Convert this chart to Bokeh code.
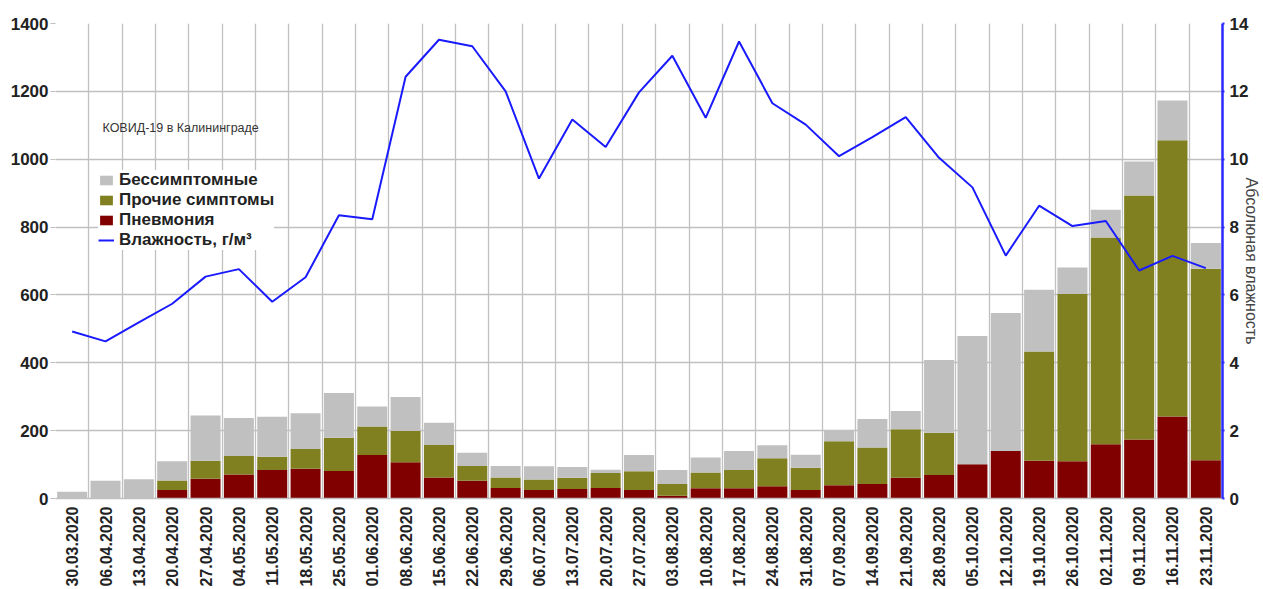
import math
from bokeh.plotting import figure
from bokeh.models import (FactorRange, Range1d, LinearAxis, Legend, LegendItem,
                          Label, Grid, FixedTicker, ColumnDataSource, SingleIntervalTicker)
from bokeh.embed import file_html
from bokeh.resources import INLINE

dates = ["30.03.2020", "06.04.2020", "13.04.2020", "20.04.2020", "27.04.2020",
         "04.05.2020", "11.05.2020", "18.05.2020", "25.05.2020", "01.06.2020",
         "08.06.2020", "15.06.2020", "22.06.2020", "29.06.2020", "06.07.2020",
         "13.07.2020", "20.07.2020", "27.07.2020", "03.08.2020", "10.08.2020",
         "17.08.2020", "24.08.2020", "31.08.2020", "07.09.2020", "14.09.2020",
         "21.09.2020", "28.09.2020", "05.10.2020", "12.10.2020", "19.10.2020",
         "26.10.2020", "02.11.2020", "09.11.2020", "16.11.2020", "23.11.2020"]

pneumonia = [0, 0, 0, 25, 58, 71, 84, 88, 81, 128, 107, 62, 52, 31, 25, 28, 31, 25,
             8, 30, 30, 36, 25, 39, 43, 61, 69, 101, 140, 111, 110, 160, 174, 242, 113]
other_symptoms = [0, 0, 0, 28, 53, 54, 39, 58, 98, 84, 92, 96, 44, 31, 31, 33, 44, 55,
                  35, 47, 54, 83, 66, 130, 107, 143, 125, 0, 0, 322, 493, 609, 719, 814, 564]
asymptomatic = [20, 52, 57, 57, 134, 112, 118, 105, 132, 59, 100, 65, 39, 34, 39, 32, 10,
                48, 41, 44, 56, 38, 38, 33, 84, 54, 214, 378, 407, 182, 78, 82, 100, 117, 76]
humidity = [4.92, 4.63, 5.19, 5.74, 6.54, 6.76, 5.80, 6.52, 8.35, 8.23, 12.43, 13.52,
            13.33, 12.0, 9.43, 11.17, 10.36, 11.97, 13.05, 11.22, 13.47, 11.65, 11.02,
            10.09, 10.65, 11.24, 10.04, 9.17, 7.16, 8.63, 8.03, 8.18, 6.72, 7.15, 6.79]

colors = ["#800000", "#808020", "#c0c0c0"]

FONT = "Liberation Sans"
GRID = "#c0c0c0"

src = ColumnDataSource(dict(date=dates, p=pneumonia, o=other_symptoms, a=asymptomatic, h=humidity))

p = figure(x_range=FactorRange(*dates), y_range=Range1d(0, 1400),
           width=1263, height=589,
           output_backend="svg", toolbar_location=None,
           min_border_top=23, min_border_left=55, min_border_right=0, min_border_bottom=90)
p.outline_line_color = None
p.background_fill_color = "white"
p.border_fill_color = "white"

p.extra_y_ranges = {"hum": Range1d(0, 14)}

renderers = p.vbar_stack(["p", "o", "a"], x="date", width=0.9, source=src,
                         color=colors, line_color=None)
line = p.line(x="date", y="h", source=src, y_range_name="hum",
              line_color="#1a1aff", line_width=2)

# grids
p.xgrid.visible = False
p.add_layout(Grid(dimension=0, ticker=FixedTicker(ticks=list(range(len(dates) + 1))),
                  grid_line_color=GRID, grid_line_width=1.3))
p.ygrid.ticker = SingleIntervalTicker(interval=200)
p.ygrid.grid_line_color = GRID
p.ygrid.grid_line_width = 1.3

# left axis
p.yaxis.ticker = SingleIntervalTicker(interval=200)
p.yaxis.axis_line_color = None
p.yaxis.major_tick_line_color = GRID
p.yaxis.major_tick_out = 5
p.yaxis.major_tick_in = 0
p.yaxis.minor_tick_line_color = None
p.yaxis.major_label_text_font = FONT
p.yaxis.major_label_text_font_style = "bold"
p.yaxis.major_label_text_font_size = "17px"
p.yaxis.major_label_text_color = "#222222"
p.yaxis.major_label_standoff = 2

# bottom axis
p.xaxis.major_label_orientation = math.pi / 2
p.xaxis.axis_line_color = GRID
p.xaxis.axis_line_width = 1.3
p.xaxis.major_tick_line_color = None
p.xaxis.major_label_text_font = FONT
p.xaxis.major_label_text_font_style = "bold"
p.xaxis.major_label_text_font_size = "16px"
p.xaxis.major_label_text_color = "#222222"
p.xaxis.major_label_standoff = 2

# right axis
ra = LinearAxis(y_range_name="hum", ticker=SingleIntervalTicker(interval=2),
                axis_label="Абсолюная влажность")
ra.axis_line_color = "#2a2aff"
ra.axis_line_width = 2.5
ra.major_tick_line_color = "#2a2aff"
ra.major_tick_line_width = 2
ra.major_tick_out = 2
ra.major_tick_in = 0
ra.minor_tick_line_color = None
ra.major_label_text_font = FONT
ra.major_label_text_font_style = "bold"
ra.major_label_text_font_size = "17px"
ra.major_label_text_color = "#222222"
ra.major_label_standoff = 3
ra.axis_label_text_font = FONT
ra.axis_label_text_font_style = "normal"
ra.axis_label_text_font_size = "16px"
ra.axis_label_text_color = "#444444"
ra.axis_label_standoff = -8
p.add_layout(ra, "right")

# chart caption
p.add_layout(Label(x=47, y=364, x_units="screen", y_units="screen",
                   text="КОВИД-19 в Калининграде", text_font=FONT,
                   text_font_size="12.5px", text_color="#333333"))

legend = Legend(items=[
    LegendItem(label="Бессимптомные", renderers=[renderers[2]]),
    LegendItem(label="Прочие симптомы", renderers=[renderers[1]]),
    LegendItem(label="Пневмония", renderers=[renderers[0]]),
    LegendItem(label="Влажность, г/м³", renderers=[line]),
], location=(43, 248))
legend.label_text_font = FONT
legend.label_text_font_style = "bold"
legend.label_text_font_size = "17px"
legend.label_text_color = "#222222"
legend.border_line_color = None
legend.background_fill_color = "white"
legend.background_fill_alpha = 1.0
legend.glyph_width = 16
legend.glyph_height = 12
legend.label_height = 18
legend.spacing = 0
legend.padding = 6
legend.margin = 0
legend.label_standoff = 5
p.add_layout(legend)

open("out.html", "w").write(file_html(p, INLINE))
